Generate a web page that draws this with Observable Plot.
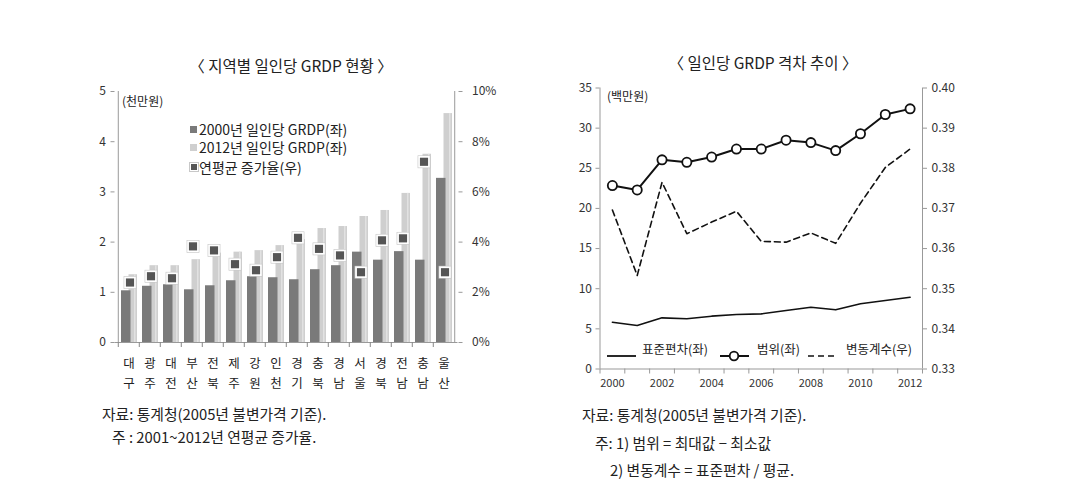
<!DOCTYPE html>
<html><head><meta charset="utf-8">
<script src="https://cdn.jsdelivr.net/npm/d3@7"></script>
<script src="https://cdn.jsdelivr.net/npm/@observablehq/plot@0.6"></script>
<style>
body{margin:0;background:#fff;}
#wrap{position:relative;width:1086px;height:502px;overflow:hidden;font-family:"Noto Sans CJK KR","Noto Sans",sans-serif;color:#222;background:#fff;}
.t{position:absolute;white-space:nowrap;line-height:1;transform:translateY(-50%);}
.chart{position:absolute;}
</style></head><body><div id="wrap"></div>
<script>
// ---- Left chart data ----
const regions = ["대구","광주","대전","부산","전북","제주","강원","인천","경기","충북","경남","서울","경북","전남","충남","울산"];
const grdp2000 = [1.03,1.12,1.15,1.05,1.13,1.23,1.31,1.29,1.25,1.45,1.53,1.80,1.64,1.81,1.64,3.27];
const grdp2012 = [1.35,1.53,1.53,1.65,1.78,1.80,1.83,1.93,2.05,2.27,2.31,2.51,2.63,2.97,3.75,4.56];
const growthPct = [2.39,2.64,2.56,3.83,3.67,3.12,2.88,3.40,4.17,3.73,3.47,2.80,4.07,4.15,7.20,2.80];
const leftTicks = [0,1,2,3,4,5];
const pctTicks = [0,2,4,6,8,10];

// ---- Right chart data ----
const years = [2000,2001,2002,2003,2004,2005,2006,2007,2008,2009,2010,2011,2012];
const stdDev = [5.83,5.42,6.37,6.25,6.58,6.79,6.87,7.29,7.70,7.37,8.12,8.53,8.94];
const rangeV = [22.85,22.3,26.05,25.75,26.4,27.4,27.4,28.5,28.2,27.2,29.3,31.7,32.4];
const cvV = [0.3696,0.3533,0.3765,0.3637,0.3666,0.3693,0.3618,0.3616,0.3639,0.3613,0.3713,0.3802,0.3848];
const rTicksLeft = [0,5,10,15,20,25,30,35];
const cvTicks = [0.33,0.34,0.35,0.36,0.37,0.38,0.39,0.40];
const yearLabels = [2000,2002,2004,2006,2008,2010,2012];

const FONT = '"Noto Sans CJK KR","Noto Sans",sans-serif';
const wrap = document.getElementById("wrap");

function txt(s, x, y, size, opts = {}) {
  const d = document.createElement("div");
  d.className = "t";
  d.textContent = s;
  d.style.left = x + "px";
  d.style.top = y + "px";
  d.style.fontSize = size + "px";
  if (opts.center) d.style.transform = "translate(-50%,-50%)";
  if (opts.color) d.style.color = opts.color;
  wrap.appendChild(d);
  return d;
}
function html(s, x, y) {
  const d = document.createElement("div");
  d.style.position = "absolute";
  d.style.left = x + "px";
  d.style.top = y + "px";
  d.innerHTML = s;
  wrap.appendChild(d);
  return d;
}

// ================= LEFT CHART =================
const W1 = 450, H1 = 330, mL1 = 54.5, mR1 = 52.5, mT1 = 16, mB1 = 63;
const bw = (W1 - mL1 - mR1) / regions.length;
const leftData = regions.map((r, i) => ({r, v00: grdp2000[i], v12: grdp2012[i], g: growthPct[i]}));
const pctToY = p => p / 2; // 10% <-> 5 (천만원)

const left = Plot.plot({
  width: W1, height: H1,
  marginLeft: mL1, marginRight: mR1, marginTop: mT1, marginBottom: mB1,
  style: {fontFamily: FONT, fontSize: "12px", color: "#333", background: "transparent"},
  x: {type: "band", domain: regions, padding: 0},
  y: {domain: [0, 5]},
  marks: [
    Plot.barY(leftData, {x: "r", y: "v12", fill: "#cfcfcf", insetLeft: 10.5, insetRight: 2}),
    Plot.barY(leftData, {x: "r", y: "v12", fill: "#e2e2e2", insetLeft: 16, insetRight: 3.5}),
    Plot.barY(leftData, {x: "r", y: "v00", fill: "#7a7a7a", insetLeft: 3, insetRight: 8.5}),
    Plot.ruleY([0], {stroke: "#999"}),
    Plot.ruleX([regions[0]], {dx: -bw / 2, stroke: "#999"}),
    Plot.ruleX([regions[regions.length - 1]], {dx: bw / 2, stroke: "#999"}),
    Plot.axisY(leftTicks, {anchor: "left", tickSize: 4, tickPadding: 5, stroke: "#999", fill: "#333", tickFormat: d => String(d), label: null}),
    Plot.axisY(pctTicks.map(pctToY), {anchor: "right", tickSize: 4, tickPadding: 10, stroke: "#999", fill: "#333", tickFormat: d => (d * 2) + "%", label: null}),
    Plot.axisX({tickSize: 5, tickFormat: () => "", dx: -bw / 2, stroke: "#888", label: null}),
    Plot.text(regions, {x: d => d, text: d => d[0] + "\n" + d[1], frameAnchor: "bottom", lineAnchor: "top", dy: 12, lineHeight: 1.55, fontSize: 12.5, fill: "#222"}),
    Plot.dot(leftData, {x: "r", y: d => pctToY(d.g), symbol: "square", r: 7.2, fill: "#c8c8c8", dx: 1}),
    Plot.dot(leftData, {x: "r", y: d => pctToY(d.g), symbol: "square", r: 6.5, fill: "#fff", dx: 1}),
    Plot.dot(leftData, {x: "r", y: d => pctToY(d.g), symbol: "square", r: 4.6, fill: "#555", dx: 1})
  ]
});
left.classList.add("chart");
left.style.left = "60px"; left.style.top = "75px";
wrap.appendChild(left);

txt("〈 지역별 일인당 GRDP 현황 〉", 291, 66, 15.5, {center: true});
txt("(천만원)", 122, 101, 12);
// legend
html('<div style="width:7px;height:7px;background:#7a7a7a"></div>', 190, 125.5);
txt("2000년 일인당 GRDP(좌)", 199, 129, 14);
html('<div style="width:7px;height:7px;background:#cfcfcf"></div>', 190, 144);
txt("2012년 일인당 GRDP(좌)", 199, 147.3, 14);
html('<div style="width:6px;height:6px;background:#555;border:1.5px solid #fff;outline:1px solid #c8c8c8"></div>', 189.5, 162.5);
txt("연평균 증가율(우)", 199, 166.5, 14);
// footnotes
txt("자료: 통계청(2005년 불변가격 기준).", 102, 413.5, 14.8);
txt("주 : 2001~2012년 연평균 증가율.", 112, 437, 14.8);

// ================= RIGHT CHART =================
const W2 = 420, H2 = 330, mL2 = 49.5, mR2 = 48, mT2 = 12.5, mB2 = 36.5;
const xDomain = [years[0] - 0.5, years[years.length - 1] + 0.5];
const boundaries = years.map(y => y - 0.5).concat([years[years.length - 1] + 0.5]);
const cvToY = v => (v - 0.33) * 500;
const rows = years.map((y, i) => ({year: y, sd: stdDev[i], range: rangeV[i], cv: cvV[i]}));

const right = Plot.plot({
  width: W2, height: H2,
  marginLeft: mL2, marginRight: mR2, marginTop: mT2, marginBottom: mB2,
  style: {fontFamily: FONT, fontSize: "12px", color: "#333", background: "transparent"},
  x: {domain: xDomain},
  y: {domain: [0, 35]},
  marks: [
    Plot.ruleY([0], {stroke: "#999"}),
    Plot.ruleX(xDomain, {stroke: "#999"}),
    Plot.axisY(rTicksLeft, {anchor: "left", tickSize: 4, tickPadding: 4, stroke: "#999", fill: "#333", label: null}),
    Plot.axisY(cvTicks.map(cvToY), {anchor: "right", tickSize: 4, tickPadding: 5, stroke: "#999", fill: "#333", tickFormat: d => (0.33 + d / 500).toFixed(2), label: null}),
    Plot.axisX(boundaries, {tickSize: 5, tickFormat: () => "", stroke: "#999", label: null}),
    Plot.axisX(yearLabels, {tickSize: 0, tickPadding: 10, fill: "#333", tickFormat: d => String(d), label: null, fontSize: 11}),
    Plot.line(rows, {x: "year", y: "sd", stroke: "#111", strokeWidth: 1.6}),
    Plot.line(rows, {x: "year", y: d => cvToY(d.cv), stroke: "#111", strokeWidth: 1.6, strokeDasharray: "6,4"}),
    Plot.line(rows, {x: "year", y: "range", stroke: "#111", strokeWidth: 2}),
    Plot.dot(rows, {x: "year", y: "range", r: 4.6, fill: "#fff", stroke: "#111", strokeWidth: 1.8})
  ]
});
right.classList.add("chart");
right.style.left = "550px"; right.style.top = "75px";
wrap.appendChild(right);

txt("〈 일인당 GRDP 격차 추이 〉", 763, 63, 15.5, {center: true});
txt("(백만원)", 607, 96, 12);
// legend
html('<svg width="32" height="12"><line x1="1" y1="6" x2="30" y2="6" stroke="#111" stroke-width="1.8"/></svg>', 606, 343);
txt("표준편차(좌)", 642, 349, 12.5);
html('<svg width="32" height="12"><line x1="1" y1="6" x2="30" y2="6" stroke="#111" stroke-width="2"/><circle cx="15" cy="6" r="4.3" fill="#fff" stroke="#111" stroke-width="1.8"/></svg>', 719, 343);
txt("범위(좌)", 757, 349, 12.5);
html('<svg width="32" height="12"><line x1="1" y1="6" x2="30" y2="6" stroke="#111" stroke-width="1.6" stroke-dasharray="6,4"/></svg>', 807, 343);
txt("변동계수(우)", 846, 349, 12.5);
// footnotes
txt("자료: 통계청(2005년 불변가격 기준).", 582, 415, 14.8);
txt("주: 1) 범위 = 최대값 − 최소값", 595, 443, 14.8);
txt("2) 변동계수 = 표준편차 / 평균.", 610, 470, 14.8);
</script>
</body></html>
